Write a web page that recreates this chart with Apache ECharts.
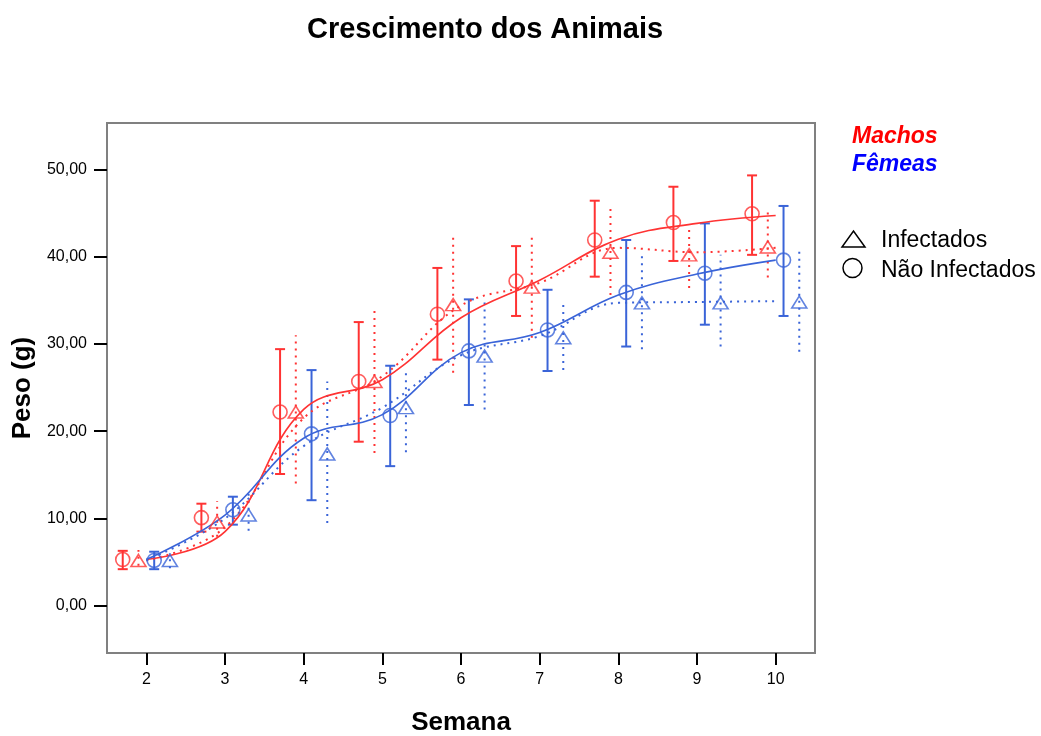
<!DOCTYPE html>
<html>
<head>
<meta charset="utf-8">
<title>Crescimento dos Animais</title>
<script src="https://cdn.jsdelivr.net/npm/echarts@6/dist/echarts.min.js"></script>
<style>
  html, body { margin: 0; padding: 0; background: #fff; }
  #grafico { width: 1041px; height: 736px; }
</style>
</head>
<body>
<div id="grafico"></div>
<script>
// semanas (eixo x)
var semanas = [2, 3, 4, 5, 6, 7, 8, 9, 10];
var ticksY = [0, 10, 20, 30, 40, 50];

// Machos - Não Infectados (círculo, linha cheia)
var machosNI = [5.3, 10.1, 22.2, 25.7, 33.4, 37.2, 41.9, 43.9, 44.9];
var machosNIMin = [4.2, 8.5, 15.1, 18.8, 28.2, 33.2, 37.7, 39.5, 40.2];
var machosNIMax = [6.3, 11.7, 29.4, 32.5, 38.7, 41.2, 46.4, 48.0, 49.3];
var machosNIAjuste = [5.3, 8.5, 22.5, 25.9, 33.0, 37.3, 42.0, 43.8, 44.7];

// Machos - Infectados (triângulo, pontilhado)
var machosInf = [5.2, 9.6, 22.2, 25.7, 34.5, 36.5, 40.5, 40.2, 41.1];
var machosInfMin = [4.6, 7.9, 14.0, 17.5, 26.7, 30.7, 35.6, 36.4, 37.6];
var machosInfMax = [6.4, 12.0, 31.0, 34.1, 42.7, 42.5, 45.7, 43.1, 45.1];
var machosInfAjuste = [5.2, 9.0, 21.5, 26.3, 34.4, 37.0, 41.0, 40.5, 41.0];

// Fêmeas - Não Infectados
var femeasNI = [5.2, 11.0, 19.7, 21.8, 29.2, 31.6, 35.9, 38.1, 39.6];
var femeasNIMin = [4.2, 9.3, 12.1, 16.0, 23.0, 26.9, 29.7, 32.2, 33.2];
var femeasNIMax = [6.2, 12.5, 27.0, 27.5, 35.1, 36.2, 41.9, 43.8, 45.8];
var femeasNIAjuste = [5.3, 10.4, 19.2, 21.9, 29.0, 31.3, 35.6, 38.0, 39.6];

// Fêmeas - Infectados
var femeasInf = [5.2, 10.4, 17.4, 22.7, 28.6, 30.7, 34.7, 34.7, 34.8];
var femeasInfMin = [4.3, 8.6, 9.5, 17.6, 22.5, 27.0, 29.4, 29.7, 29.1];
var femeasInfMax = [6.0, 12.9, 25.7, 27.0, 34.8, 34.8, 40.4, 40.2, 41.1];
var femeasInfAjuste = [5.2, 10.0, 18.3, 22.7, 28.7, 30.9, 34.7, 34.8, 34.9];

var VERMELHO = '#ff3333';
var AZUL = '#3a64d8';
var FONTE = '"Liberation Sans", Arial, sans-serif';

var myChart = echarts.init(document.getElementById('grafico'));

function pares(desloc, valores) {
  return semanas.map(function (s, i) { return [s + desloc, valores[i]]; });
}

// barras de erro: cheias com traço nas pontas, pontilhadas sem
function barras(desloc, lo, hi, cor, pontilhado) {
  return {
    type: 'custom',
    silent: true,
    z: 2,
    data: semanas.map(function (s, i) { return [s + desloc, lo[i], hi[i]]; }),
    encode: { x: 0, y: [1, 2] },
    renderItem: function (params, api) {
      var x = api.value(0);
      var p1 = api.coord([x, api.value(1)]);
      var p2 = api.coord([x, api.value(2)]);
      var estilo = { stroke: cor, lineWidth: 2, lineDash: pontilhado ? [2, 5] : null };
      var filhos = [{ type: 'line', shape: { x1: p1[0], y1: p1[1], x2: p2[0], y2: p2[1] }, style: estilo }];
      if (!pontilhado) {
        filhos.push({ type: 'line', shape: { x1: p1[0] - 5, y1: p1[1], x2: p1[0] + 5, y2: p1[1] }, style: estilo });
        filhos.push({ type: 'line', shape: { x1: p2[0] - 5, y1: p2[1], x2: p2[0] + 5, y2: p2[1] }, style: estilo });
      }
      return { type: 'group', children: filhos };
    }
  };
}

function pontos(desloc, valores, cor, simbolo) {
  return {
    type: 'scatter',
    z: 4,
    symbol: simbolo,
    symbolSize: simbolo === 'circle' ? 14 : [15, 12],
    data: pares(desloc, valores),
    itemStyle: { color: 'rgba(0,0,0,0)', borderColor: cor, borderWidth: 1.6 }
  };
}

function ajuste(valores, cor, pontilhado) {
  return {
    type: 'line',
    z: 3,
    smooth: 0.4,
    symbol: 'none',
    data: pares(0, valores),
    lineStyle: { color: cor, width: pontilhado ? 2 : 1.6, type: pontilhado ? [2, 5] : 'solid' }
  };
}

var option = {
  animation: false,
  backgroundColor: '#fff',
  title: {
    text: 'Crescimento dos Animais',
    left: 302,
    top: 10,
    textStyle: { fontFamily: FONTE, fontSize: 29, fontWeight: 'bold', color: '#000' }
  },
  grid: {
    left: 107, right: 226, top: 123, bottom: 83,
    outerBoundsMode: 'none',
    show: true, borderColor: '#808080', borderWidth: 2
  },
  xAxis: {
    type: 'value',
    min: 1.5,
    max: 10.5,
    name: 'Semana',
    nameLocation: 'middle',
    nameGap: 57,
    nameTextStyle: { fontFamily: FONTE, fontSize: 26, fontWeight: 'bold', color: '#000' },
    axisLine: { show: false, onZero: false },
    axisTick: { show: true, customValues: semanas, length: 12, lineStyle: { color: '#000', width: 2 } },
    axisLabel: { customValues: semanas, margin: 19, fontFamily: FONTE, fontSize: 16, color: '#000' },
    splitLine: { show: false }
  },
  yAxis: {
    type: 'value',
    min: -5.4,
    max: 55.3,
    name: 'Peso (g)',
    nameLocation: 'middle',
    nameRotate: 90,
    nameGap: 69,
    nameTextStyle: { fontFamily: FONTE, fontSize: 26, fontWeight: 'bold', color: '#000' },
    axisLine: { show: false, onZero: false },
    axisTick: { show: true, customValues: ticksY, length: 13, lineStyle: { color: '#000', width: 2 } },
    axisLabel: {
      customValues: ticksY, margin: 20, fontFamily: FONTE, fontSize: 16, color: '#000',
      formatter: function (v) { return v.toFixed(2).replace('.', ','); }
    },
    splitLine: { show: false }
  },
  series: [
    ajuste(machosNIAjuste, VERMELHO, false),
    ajuste(machosInfAjuste, VERMELHO, true),
    ajuste(femeasNIAjuste, AZUL, false),
    ajuste(femeasInfAjuste, AZUL, true),
    barras(-0.3, machosNIMin, machosNIMax, VERMELHO, false),
    barras(-0.1, machosInfMin, machosInfMax, VERMELHO, true),
    barras(0.1, femeasNIMin, femeasNIMax, AZUL, false),
    barras(0.3, femeasInfMin, femeasInfMax, AZUL, true),
    pontos(-0.3, machosNI, VERMELHO, 'circle'),
    pontos(-0.1, machosInf, VERMELHO, 'triangle'),
    pontos(0.1, femeasNI, AZUL, 'circle'),
    pontos(0.3, femeasInf, AZUL, 'triangle')
  ],
  graphic: [
    { type: 'text', left: 852, top: 125, style: { text: 'Machos', fill: '#ff0000', font: 'italic bold 23px ' + FONTE } },
    { type: 'text', left: 852, top: 153, style: { text: 'Fêmeas', fill: '#0000ff', font: 'italic bold 23px ' + FONTE } },
    { type: 'polygon', shape: { points: [[842, 247], [865, 247], [853.5, 231]] }, style: { fill: 'none', stroke: '#000', lineWidth: 1.5 } },
    { type: 'circle', shape: { cx: 852.5, cy: 268, r: 9.5 }, style: { fill: 'none', stroke: '#000', lineWidth: 1.5 } },
    { type: 'text', left: 881, top: 229, style: { text: 'Infectados', fill: '#000', font: '23px ' + FONTE } },
    { type: 'text', left: 881, top: 259, style: { text: 'Não Infectados', fill: '#000', font: '23px ' + FONTE } }
  ]
};
myChart.setOption(option);
</script>
</body>
</html>
